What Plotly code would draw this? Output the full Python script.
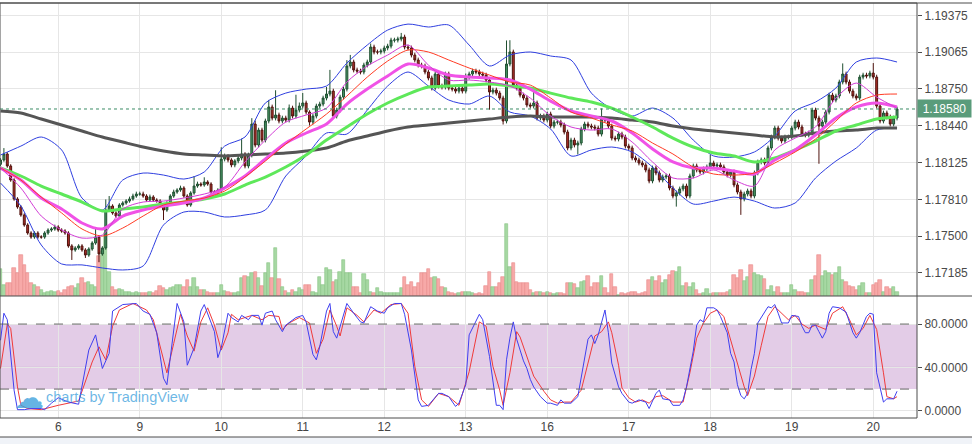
import plotly.graph_objects as go

# ---------------- data (EUR/USD, 1h, Oct 5 07:00 -> Oct 20 07:00) ----------------
first_open = 1.18110
close = [
    # Oct 5 (07:00-23:00)
    1.18147, 1.18198, 1.18096, 1.17977, 1.17816, 1.17748, 1.17680, 1.17595, 1.17527, 1.17493,
    1.17527, 1.17493, 1.17493, 1.17527, 1.17552, 1.17561, 1.17578,
    # Oct 6
    1.17552, 1.17544, 1.17527, 1.17417, 1.17383, 1.17400, 1.17417, 1.17383, 1.17340, 1.17391,
    1.17442, 1.17493, 1.17349, 1.17400, 1.17722, 1.17756, 1.17697, 1.17671, 1.17765, 1.17782,
    1.17799, 1.17816, 1.17841, 1.17858,
    # Oct 9
    1.17858, 1.17841, 1.17807, 1.17833, 1.17807, 1.17799, 1.17756, 1.17722, 1.17782, 1.17841,
    1.17875, 1.17892, 1.17909, 1.17841, 1.17765, 1.17867, 1.17926, 1.17943, 1.17935, 1.17960,
    1.17943, 1.17875, 1.17867, 1.17892,
    # Oct 10
    1.18155, 1.18181, 1.18147, 1.18105, 1.18139, 1.18164, 1.18198, 1.18096, 1.18189, 1.18452,
    1.18274, 1.18401, 1.18316, 1.18478, 1.18597, 1.18503, 1.18529, 1.18478, 1.18503, 1.18486,
    1.18588, 1.18520, 1.18571, 1.18605,
    # Oct 11
    1.18631, 1.18554, 1.18469, 1.18520, 1.18605, 1.18622, 1.18673, 1.18707, 1.18732, 1.18520,
    1.18571, 1.18681, 1.18749, 1.18945, 1.18979, 1.18911, 1.18902, 1.18894, 1.18953, 1.18979,
    1.19106, 1.19064, 1.19064, 1.19072,
    # Oct 12
    1.19098, 1.19114, 1.19165, 1.19165, 1.19174, 1.19191, 1.19106, 1.19098, 1.19038, 1.18996,
    1.18953, 1.18945, 1.18894, 1.18843, 1.18758, 1.18877, 1.18775, 1.18766, 1.18877, 1.18758,
    1.18749, 1.18732, 1.18758, 1.18732,
    # Oct 13
    1.18851, 1.18877, 1.18902, 1.18894, 1.18877, 1.18868, 1.18826, 1.18724, 1.18741, 1.18715,
    1.18673, 1.18478, 1.18962, 1.19064, 1.18783, 1.18758, 1.18698, 1.18673, 1.18614, 1.18605,
    1.18631, 1.18503, 1.18520, 1.18486,
    # Oct 16
    1.18537, 1.18435, 1.18469, 1.18469, 1.18444, 1.18384, 1.18249, 1.18316, 1.18274, 1.18291,
    1.18410, 1.18452, 1.18435, 1.18427, 1.18418, 1.18367, 1.18495, 1.18486, 1.18435, 1.18333,
    1.18325, 1.18367, 1.18342, 1.18265,
    # Oct 17
    1.18249, 1.18164, 1.18147, 1.18121, 1.18105, 1.18062, 1.17969, 1.18079, 1.18037, 1.17977,
    1.18003, 1.18011, 1.17909, 1.17841, 1.17867, 1.17901, 1.17926, 1.17841, 1.18011, 1.18096,
    1.18062, 1.18045, 1.18071, 1.18088,
    # Oct 18
    1.18121, 1.18096, 1.18105, 1.18088, 1.18045, 1.18019, 1.18045, 1.17935, 1.17875, 1.17816,
    1.17858, 1.17884, 1.17841, 1.18037, 1.18130, 1.18147, 1.18121, 1.18249, 1.18342, 1.18418,
    1.18333, 1.18308, 1.18342, 1.18342,
    # Oct 19
    1.18418, 1.18469, 1.18427, 1.18367, 1.18359, 1.18376, 1.18571, 1.18503, 1.18435, 1.18469,
    1.18554, 1.18698, 1.18656, 1.18690, 1.18809, 1.18877, 1.18809, 1.18732, 1.18690, 1.18673,
    1.18851, 1.18868, 1.18860, 1.18885,
    # Oct 20 (00:00-07:00)
    1.18851, 1.18605, 1.18478, 1.18546, 1.18512, 1.18452, 1.18503, 1.18580,
]

# wick length beyond the body, in pips
wick_up_pips = (
    [1.5, 5, 1.5, 1.5, 1.5, 1.5, 1.5, 1.5, 1.5, 1.5, 1.5, 1.5, 1.5, 1.5, 1.5, 1.5, 2]
    + [1.5, 1.5, 1.5, 1.5, 1.5, 1.5, 1.5, 1.5, 1.5, 1.5, 1.5, 8.5, 1.5, 1.5, 9, 8.5, 1.5, 1.5, 1.5, 1.5, 1.5, 2, 2, 2]
    + [2, 2, 1.5, 2, 1.5, 1.5, 1.5, 1.5, 1.5, 1.5, 2, 1.5, 2, 1.5, 1.5, 1.5, 8.5, 2, 1.5, 4, 1.5, 1.5, 1.5, 1.5]
    + [10, 2, 1.5, 1.5, 1.5, 2, 13, 1.5, 2, 5, 3, 2, 2, 2, 6, 2, 21, 2, 2, 2, 3, 2, 13, 3]
    + [8.5, 2, 1.5, 2, 2, 2, 2, 6, 18, 2, 2, 2, 2, 5, 6, 2, 2, 2, 2, 2, 3, 2, 2, 2]
    + [2, 2, 2, 2, 2, 3.5, 2, 2, 2, 2, 2, 2, 2, 2, 2, 2, 2, 2, 2, 2, 2, 2, 2, 2]
    + [3, 2, 2, 2, 2, 2, 2, 2, 2, 2, 2, 2, 20, 10, 2, 2, 2, 2, 2, 2, 13, 2, 2, 2]
    + [2, 2, 2, 2, 2, 2, 2, 2, 2, 2, 2, 2, 2, 2, 2, 2, 9, 2, 2, 2, 2, 2, 2, 2]
    + [2, 2, 2, 2, 2, 2, 2, 2, 2, 2, 2, 2, 2, 2, 2, 2, 2, 2, 2, 2, 2, 2, 2, 2]
    + [7, 2, 2, 2, 2, 2, 2, 2, 2, 2, 2, 2, 2, 2, 2, 2, 2, 2, 2, 2, 2, 2, 2, 2]
    + [2, 2, 2, 2, 2, 2, 2, 2, 2, 2, 2, 2, 2, 2, 2, 9, 2, 2, 2, 2, 2, 2, 2, 2]
    + [8.5, 2, 2, 2, 2, 2, 2, 2]
)
wick_dn_pips = (
    [1.5, 1.5, 1.5, 1.5, 1.5, 1.5, 1.5, 1.5, 1.5, 1.5, 1.5, 1.5, 1.5, 1.5, 1.5, 1.5, 1.5]
    + [1.5, 1.5, 1.5, 1.5, 8.5, 1.5, 1.5, 1.5, 2.5, 1.5, 1.5, 1.5, 7, 1.5, 1.5, 1.5, 1.5, 1.5, 1.5, 1.5, 1.5, 1.5, 1.5, 1.5]
    + [1.5, 1.5, 1.5, 1.5, 1.5, 1.5, 1.5, 8.5, 1.5, 1.5, 1.5, 1.5, 1.5, 1.5, 1.5, 1.5, 1.5, 1.5, 1.5, 1.5, 1.5, 1.5, 1.5, 1.5]
    + [2, 2, 2, 2, 2, 2, 2, 2, 2, 2, 2, 2, 2, 2, 2, 2, 2, 2, 2, 2, 2, 2, 2, 2]
    + [2, 2, 3, 2, 2, 2, 2, 2, 2, 2, 2, 2, 2, 2, 2, 2, 2, 2, 2, 2, 2, 2, 2, 2]
    + [2, 2, 2, 2, 2, 2, 2, 2, 2, 2, 2, 2, 2, 2, 2, 2, 2, 2, 2, 2, 2, 2, 2, 2]
    + [2, 2, 2, 2, 2, 2, 2, 15, 2, 2, 2, 3, 2, 2, 2, 2, 2, 2, 2, 2, 2, 2, 2, 2]
    + [2, 2, 2, 2, 2, 2, 2, 2, 2, 8, 2, 2, 2, 2, 2, 2, 2, 2, 2, 2, 2, 2, 2, 2]
    + [2, 2, 2, 2, 2, 2, 2, 2, 2, 2, 2, 2, 2, 2, 9, 2, 2, 2, 2, 2, 2, 2, 2, 2]
    + [2, 2, 2, 2, 2, 2, 2, 2, 2, 13.5, 2, 2, 2, 2, 2, 2, 2, 2, 2, 2, 2, 2, 2, 2]
    + [2, 2, 2, 2, 2, 2, 2, 2, 32, 2, 2, 2, 2, 2, 2, 2, 2, 2, 2, 2, 2, 2, 2, 2]
    + [2, 2, 2, 2, 2, 2, 2, 2]
)

volume = (
    [27, 11, 13, 13, 28, 23, 41, 31, 23, 13, 11, 9, 6, 3, 4, 5, 4]
    + [5, 3, 6, 9, 10, 8, 12, 18, 13, 14, 11, 9, 40, 45, 63, 24, 9, 6, 7, 6, 4, 4, 3, 4]
    + [3, 3, 3, 4, 3, 5, 10, 8, 6, 8, 9, 11, 11, 9, 16, 9, 18, 9, 6, 6, 4, 3, 3, 3]
    + [11, 5, 4, 3, 3, 4, 18, 20, 19, 23, 24, 18, 10, 23, 33, 18, 48, 17, 9, 5, 3, 6, 4, 8]
    + [6, 11, 11, 4, 3, 19, 11, 28, 26, 14, 16, 24, 36, 23, 23, 9, 9, 3, 22, 16, 4, 3, 8, 4]
    + [3, 3, 3, 3, 3, 8, 19, 11, 14, 9, 13, 23, 23, 27, 18, 19, 17, 9, 8, 4, 3, 2, 3, 4]
    + [4, 4, 3, 2, 3, 2, 10, 24, 9, 9, 13, 19, 72, 29, 33, 14, 13, 13, 13, 6, 3, 4, 4, 3]
    + [4, 3, 2, 3, 3, 2, 13, 13, 12, 8, 14, 15, 20, 9, 13, 13, 20, 8, 3, 22, 9, 1, 3, 2]
    + [3, 4, 4, 2, 3, 4, 16, 19, 15, 20, 13, 16, 21, 25, 24, 29, 10, 13, 9, 13, 6, 2, 3, 7]
    + [2, 3, 3, 3, 3, 4, 6, 21, 18, 26, 15, 19, 31, 23, 21, 20, 17, 6, 10, 4, 9, 3, 3, 3]
    + [11, 6, 4, 4, 3, 3, 16, 20, 41, 20, 25, 23, 21, 23, 29, 16, 14, 10, 9, 6, 10, 13, 3, 3]
    + [11, 13, 16, 4, 9, 7, 9, 4]
)

# moving averages / Bollinger bands, read every 6 bars
ma_idx = list(range(0, 265, 6))
sma200 = [1.18563, 1.18546, 1.18495, 1.18444, 1.18393, 1.18342, 1.18299, 1.18257, 1.18223, 1.18198,
          1.18189, 1.18181, 1.18189, 1.18198, 1.18206, 1.18223, 1.18249, 1.18308, 1.18350, 1.18393,
          1.18427, 1.18444, 1.18461, 1.18478, 1.18495, 1.18512, 1.18520, 1.18512, 1.18512, 1.18512,
          1.18503, 1.18486, 1.18469, 1.18435, 1.18410, 1.18393, 1.18376, 1.18359, 1.18342, 1.18350,
          1.18376, 1.18393, 1.18401, 1.18418, 1.18418]
sma50 = [1.18079, 1.18011, 1.17926, 1.17858, 1.17790, 1.17714, 1.17731, 1.17748, 1.17773, 1.17790,
         1.17815, 1.17858, 1.17934, 1.18002, 1.18087, 1.18189, 1.18316, 1.18427, 1.18537, 1.18631,
         1.18707, 1.18766, 1.18775, 1.18783, 1.18792, 1.18775, 1.18758, 1.18715, 1.18673, 1.18639,
         1.18588, 1.18512, 1.18427, 1.18333, 1.18257, 1.18206, 1.18181, 1.18130, 1.18164, 1.18232,
         1.18308, 1.18393, 1.18444, 1.18495, 1.18512]
ema_slow = [1.18079, 1.17977, 1.17824, 1.17731, 1.17612, 1.17561, 1.17671, 1.17722, 1.17756, 1.17782,
            1.17824, 1.17909, 1.18011, 1.18155, 1.18291, 1.18376, 1.18452, 1.18622, 1.18749, 1.18860,
            1.18962, 1.18928, 1.18868, 1.18851, 1.18843, 1.18826, 1.18749, 1.18647, 1.18563, 1.18520,
            1.18478, 1.18376, 1.18240, 1.18130, 1.18079, 1.18079, 1.18053, 1.18028, 1.18147, 1.18232,
            1.18359, 1.18503, 1.18597, 1.18631, 1.18597]
ema_fast = [1.18079, 1.17909, 1.17671, 1.17552, 1.17484, 1.17510, 1.17731, 1.17790, 1.17798, 1.17824,
            1.17858, 1.17917, 1.18130, 1.18316, 1.18469, 1.18529, 1.18588, 1.18809, 1.18945, 1.19038,
            1.19123, 1.18953, 1.18826, 1.18826, 1.18809, 1.18775, 1.18673, 1.18520, 1.18427, 1.18401,
            1.18410, 1.18299, 1.18130, 1.17994, 1.17994, 1.18062, 1.17977, 1.17926, 1.18232, 1.18333,
            1.18427, 1.18673, 1.18800, 1.18681, 1.18588]
bb_basis = [1.18079, 1.17977, 1.17832, 1.17697, 1.17561, 1.17501, 1.17569, 1.17671, 1.17765, 1.17798,
            1.17824, 1.17883, 1.18002, 1.18138, 1.18282, 1.18410, 1.18537, 1.18690, 1.18851, 1.18987,
            1.19081, 1.19064, 1.18996, 1.18928, 1.18868, 1.18809, 1.18783, 1.18673, 1.18554, 1.18503,
            1.18444, 1.18393, 1.18291, 1.18198, 1.18087, 1.18028, 1.18019, 1.18036, 1.18121, 1.18215,
            1.18325, 1.18478, 1.18631, 1.18698, 1.18707]
bb_upper = [1.18189, 1.18265, 1.18342, 1.18232, 1.17824, 1.17722, 1.17977, 1.18036, 1.18019, 1.17985,
            1.18045, 1.18265, 1.18342, 1.18631, 1.18715, 1.18749, 1.18775, 1.18970, 1.19123, 1.19250,
            1.19301, 1.19276, 1.19293, 1.19123, 1.18945, 1.19038, 1.19064, 1.19030, 1.18996, 1.18715,
            1.18580, 1.18520, 1.18588, 1.18503, 1.18316, 1.18181, 1.18172, 1.18215, 1.18350, 1.18563,
            1.18639, 1.18758, 1.18979, 1.19013, 1.18979]
bb_lower = [1.17951, 1.17756, 1.17425, 1.17264, 1.17256, 1.17230, 1.17213, 1.17247, 1.17595, 1.17705,
            1.17705, 1.17663, 1.17680, 1.17722, 1.18011, 1.18181, 1.18376, 1.18367, 1.18571, 1.18775,
            1.18894, 1.18775, 1.18656, 1.18622, 1.18690, 1.18554, 1.18520, 1.18410, 1.18181, 1.18232,
            1.18257, 1.18215, 1.18087, 1.17909, 1.17773, 1.17798, 1.17832, 1.17798, 1.17739, 1.17782,
            1.17994, 1.18138, 1.18249, 1.18401, 1.18418]

# Stochastic %K (blue) and %D (red), read at bar indices
stoch_k_idx = [0, 1, 2, 4, 5, 7, 9, 12, 13, 15, 17, 20, 23, 26, 28, 30, 32, 33, 36, 39, 40, 42, 44, 46, 48, 49,
               51, 52, 54, 55, 57, 59, 60, 61, 63, 64, 65, 67, 68, 70, 71, 73, 74, 76, 77, 78, 80, 81, 83, 84,
               86, 87, 89, 90, 92, 93, 94, 96, 97, 98, 99, 101, 102, 104, 106, 107, 109, 111, 113, 114, 116,
               118, 119, 121, 123, 124, 126, 129, 130, 132, 134, 135, 137, 138, 141, 142, 144, 146, 147, 148,
               149, 150, 151, 152, 154, 155, 156, 157, 159, 161, 162, 164, 165, 166, 168, 170, 171, 173, 174,
               175, 176, 177, 178, 179, 180, 182, 183, 185, 186, 188, 190, 191, 193, 194, 195, 197, 198, 200,
               201, 202, 204, 205, 206, 207, 208, 210, 211, 212, 214, 215, 216, 217, 218, 219, 220, 221, 222,
               223, 224, 226, 227, 228, 229, 230, 232, 233, 235, 236, 237, 238, 239, 240, 241, 242, 243, 244,
               245, 247, 249, 251, 252, 253, 255, 256, 257, 258, 260, 261, 263, 264]
stoch_k = [65, 90, 84, 19, 1, 1, 2, 2, 1, 7, 12, 8, 6, 56, 70, 39, 53, 92, 98, 99, 99, 92, 89, 72, 30, 24,
           78, 99, 82, 42, 58, 92, 98, 89, 73, 49, 58, 90, 86, 82, 88, 84, 88, 88, 79, 90, 92, 84, 73, 79,
           84, 86, 88, 82, 52, 47, 59, 92, 99, 73, 67, 87, 99, 90, 82, 81, 96, 92, 90, 95, 99,
           99, 89, 56, 10, 4, 5, 16, 16, 13, 4, 7, 24, 70, 89, 84, 50, 5, 5, 1,
           47, 67, 82, 66, 46, 39, 29, 22, 13, 7, 7, 5, 10, 7, 7, 13, 32, 66, 70,
           62, 70, 82, 93, 72, 44, 22, 16, 8, 7, 10, 8, 2, 16, 19, 11, 10, 5, 5,
           10, 22, 55, 79, 84, 82, 95, 95, 93, 87, 72, 53, 45, 24, 14, 11, 16, 38, 53,
           81, 86, 96, 95, 98, 90, 81, 81, 88, 87, 78, 72, 72, 79, 79, 73, 67, 73, 90,
           96, 95, 91, 72, 67, 72, 87, 90, 89, 35, 8, 11, 11, 18]
stoch_d_idx = [0, 2, 3, 5, 6, 8, 12, 17, 23, 27, 29, 31, 33, 35, 39, 43, 45, 47, 49, 51, 53, 55, 57, 59, 61, 63,
               65, 67, 68, 70, 74, 77, 79, 82, 83, 85, 88, 91, 93, 95, 97, 99, 100, 102, 105, 107, 110, 112,
               115, 118, 120, 122, 124, 126, 129, 132, 135, 138, 141, 143, 145, 147, 148, 150, 152, 153, 155,
               157, 160, 162, 164, 166, 168, 171, 173, 175, 177, 179, 180, 182, 183, 185, 187, 189, 191, 193,
               195, 198, 201, 203, 205, 207, 209, 211, 213, 215, 217, 219, 220, 222, 224, 226, 228, 230, 232,
               234, 236, 238, 240, 243, 245, 248, 250, 252, 254, 256, 258, 260, 261, 263, 264]
stoch_d = [39, 80, 76, 22, 5, 2, 1, 5, 9, 45, 59, 47, 78, 93, 99, 93, 84, 59, 35, 62, 89, 69, 55, 82, 95, 79,
           56, 72, 89, 84, 88, 84, 88, 87, 75, 81, 86, 81, 53, 66, 93, 78, 69, 95, 88, 82, 93, 90,
           98, 99, 90, 41, 10, 4, 16, 13, 5, 36, 82, 78, 41, 19, 5, 35, 73, 68, 50,
           32, 18, 10, 7, 8, 8, 19, 44, 69, 73, 82, 72, 42, 21, 12, 8, 10, 7, 13,
           14, 8, 8, 35, 67, 81, 90, 93, 87, 66, 45, 22, 14, 32, 60, 87, 96, 90, 84,
           88, 80, 76, 79, 75, 90, 96, 84, 70, 76, 88, 75, 35, 13, 11, 13]

day_labels = ['6', '9', '10', '11', '12', '13', '16', '17', '18', '19', '20']
bars_before_first_label = 17          # Oct 5, 07:00 .. 23:00
bars_per_day = 24

price_ticks = [1.171875, 1.175, 1.178125, 1.18125, 1.184375, 1.1875, 1.190625, 1.19375]
price_tick_text = ['1.17185', '1.17500', '1.17810', '1.18125', '1.18440', '1.18750', '1.19065', '1.19375']
stoch_ticks = [0, 40, 80]
stoch_tick_text = ['0.0000', '40.0000', '80.0000']
stoch_bounds = [20, 80]

n = len(close)
for name, arr in [('wick_up', wick_up_pips), ('wick_dn', wick_dn_pips), ('volume', volume)]:
    assert len(arr) == n, (name, len(arr), n)
for a, b in [(ma_idx, sma200), (ma_idx, sma50), (ma_idx, ema_slow), (ma_idx, ema_fast),
             (ma_idx, bb_basis), (ma_idx, bb_upper), (ma_idx, bb_lower),
             (stoch_k_idx, stoch_k), (stoch_d_idx, stoch_d)]:
    assert len(a) == len(b), (len(a), len(b))

# ---------------- derived OHLC ----------------
x = list(range(n))
opens = [first_open] + close[:-1]
highs = [max(o, c) + u * 1e-4 for o, c, u in zip(opens, close, wick_up_pips)]
lows = [min(o, c) - d * 1e-4 for o, c, d in zip(opens, close, wick_dn_pips)]
vol_colors = ['#a6d8a3' if c >= o else '#f7a9a8' for o, c in zip(opens, close)]
vol_lines = ['#86c283' if c >= o else '#ea8c8b' for o, c in zip(opens, close)]
day_tick_idx = [bars_before_first_label + k * bars_per_day for k in range(len(day_labels))]
last_price = close[-1]

# ---------------- geometry ----------------
W, H = 972, 444
m_l, m_r, m_t, m_b = 0, 55, 3, 26
plot_w = W - m_l - m_r
plot_h = H - m_t - m_b
split = (418 - 296) / plot_h
bar_px = 3.396
x_range = [-0.5 / bar_px, plot_w / bar_px - 0.5 / bar_px]

FONT = 'Liberation Sans, Arial, sans-serif'
GRID = '#e6e6e6'
AXIS = '#4d4d4d'

fig = go.Figure()

# volume (base axis of the main pane)
fig.add_trace(go.Bar(x=x, y=volume, marker=dict(color=vol_colors, line=dict(color=vol_lines, width=0.6)),
                     xaxis='x', yaxis='y', hoverinfo='skip', showlegend=False))

def line(xv, yv, color, width, ax='y3', shape='spline'):
    fig.add_trace(go.Scatter(x=xv, y=yv, mode='lines', line=dict(color=color, width=width, shape=shape,
                                                                  smoothing=0.8 if shape == 'spline' else None),
                             xaxis='x', yaxis=ax, hoverinfo='skip', showlegend=False))

line(ma_idx, bb_upper, '#2f3fe0', 1)
line(ma_idx, bb_lower, '#2f3fe0', 1)
line(ma_idx, sma200, '#555555', 3)
line(ma_idx, sma50, '#5ee85a', 3)
line(ma_idx, ema_slow, '#f052e6', 3)
line(ma_idx, bb_basis, '#ff3b24', 1)
line(ma_idx, ema_fast, '#d23cd6', 1)

fig.add_trace(go.Candlestick(
    x=x, open=opens, high=highs, low=lows, close=close, xaxis='x', yaxis='y3',
    increasing=dict(line=dict(color='#1f4f30', width=1), fillcolor='#4a9766'),
    decreasing=dict(line=dict(color='#4f130e', width=1), fillcolor='#b0302a'),
    whiskerwidth=0, hoverinfo='skip', showlegend=False))

# stochastic pane
fig.add_trace(go.Scatter(x=stoch_d_idx, y=stoch_d, mode='lines', line=dict(color='#f03a3a', width=1),
                         xaxis='x2', yaxis='y2', hoverinfo='skip', showlegend=False))
fig.add_trace(go.Scatter(x=stoch_k_idx, y=stoch_k, mode='lines', line=dict(color='#3f3ff0', width=1),
                         xaxis='x2', yaxis='y2', hoverinfo='skip', showlegend=False))

shapes = [
    # stochastic band + bounds
    dict(type='rect', xref='x2', yref='y2', x0=x_range[0], x1=x_range[1], y0=stoch_bounds[0], y1=stoch_bounds[1],
         fillcolor='#e3cce7', line=dict(width=0), layer='below'),
    dict(type='line', xref='x2', yref='y2', x0=x_range[0], x1=x_range[1], y0=40, y1=40,
         line=dict(color='rgba(140,120,140,0.45)', width=1), layer='below'),
    dict(type='line', xref='x2', yref='y2', x0=x_range[0], x1=x_range[1], y0=stoch_bounds[1], y1=stoch_bounds[1],
         line=dict(color='#666666', width=1, dash='dash')),
    dict(type='line', xref='x2', yref='y2', x0=x_range[0], x1=x_range[1], y0=stoch_bounds[0], y1=stoch_bounds[0],
         line=dict(color='#666666', width=1, dash='dash')),
    # last price dotted line
    dict(type='line', xref='paper', yref='y3', x0=0, x1=1, y0=last_price, y1=last_price,
         line=dict(color='#3c8c66', width=1, dash='dot')),
    # frames
    dict(type='rect', xref='paper', yref='paper', x0=0, x1=1, y0=0, y1=1, line=dict(color=AXIS, width=1)),
    dict(type='line', xref='paper', yref='paper', x0=0, x1=W / plot_w, y0=split, y1=split,
         line=dict(color=AXIS, width=1)),
    dict(type='line', xref='paper', yref='paper', x0=0, x1=W / plot_w, y0=1, y1=1,
         line=dict(color=AXIS, width=1)),
    # bottom strip
    dict(type='rect', xref='paper', yref='paper', x0=0, x1=W / plot_w, y0=-(H - 418) / plot_h,
         y1=-(437 - 418) / plot_h, fillcolor='#f0f3f8', line=dict(width=0)),
    dict(type='line', xref='paper', yref='paper', x0=0, x1=W / plot_w, y0=-(437 - 418) / plot_h,
         y1=-(437 - 418) / plot_h, line=dict(color=AXIS, width=1)),
]

annotations = [
    dict(xref='paper', yref='y3', x=1, y=last_price, xanchor='left', yanchor='middle',
         text=f'{last_price:.5f}', showarrow=False, bgcolor='#5a9c7b', width=51, height=15,
         font=dict(family=FONT, size=12, color='#ffffff'), borderpad=1),
    dict(xref='paper', yref='y2', x=12 / plot_w, y=12, xanchor='left', yanchor='middle', text='☁',
         showarrow=False, font=dict(family='DejaVu Sans', size=30, color='rgba(60,160,220,0.8)')),
    dict(xref='paper', yref='y2', x=44 / plot_w, y=13, xanchor='left', yanchor='middle',
         text='charts by TradingView', showarrow=False,
         font=dict(family=FONT, size=14.5, color='rgba(60,160,220,0.75)')),
]

tickfont = dict(family=FONT, size=12, color='#4a4a4a')
fig.update_layout(
    width=W, height=H, margin=dict(l=m_l, r=m_r, t=m_t, b=m_b),
    paper_bgcolor='#ffffff', plot_bgcolor='#ffffff', showlegend=False,
    bargap=0, boxgap=0.2, hovermode=False,
    xaxis=dict(domain=[0, 1], anchor='y', range=x_range, tickvals=day_tick_idx, showticklabels=False,
               showgrid=True, gridcolor=GRID, zeroline=False, rangeslider=dict(visible=False), ticks=''),
    yaxis=dict(domain=[split, 1], anchor='x', range=[0, 293], visible=False, showgrid=False),
    yaxis3=dict(overlaying='y', anchor='x', side='right', range=[1.16992, 1.19480], tickvals=price_ticks,
                ticktext=price_tick_text, showgrid=True, gridcolor=GRID, zeroline=False, ticks='outside',
                ticklen=4, tickcolor=AXIS, tickfont=tickfont),
    xaxis2=dict(domain=[0, 1], anchor='y2', matches='x', range=x_range, tickvals=day_tick_idx,
                ticktext=day_labels, showgrid=True, gridcolor=GRID, zeroline=False, ticks='',
                tickfont=dict(family=FONT, size=12, color='#444444')),
    yaxis2=dict(domain=[0, split], anchor='x2', side='right', range=[-6.7, 105.9], tickvals=stoch_ticks,
                ticktext=stoch_tick_text, showgrid=True, gridcolor=GRID, zeroline=False, ticks='outside',
                ticklen=4, tickcolor=AXIS, tickfont=tickfont),
    shapes=shapes, annotations=annotations,
)

fig.write_html('out.html', config={'displayModeBar': False},
               post_script="document.body.style.margin='0';document.body.style.overflow='hidden';")
